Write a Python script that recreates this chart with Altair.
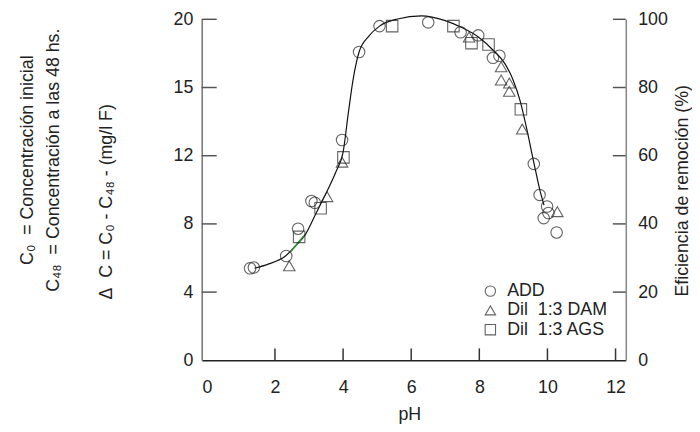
import altair as alt
import pandas as pd

FONT = "Liberation Sans"

# ---- data ----
series_names = ["ADD", "Dil\u00a0 1:3 DAM", "Dil\u00a0 1:3 AGS"]

add_ph = [1.27, 1.38, 2.33, 2.68, 3.07, 3.17, 3.97, 4.47, 5.07, 6.50, 7.45, 7.97, 8.40, 8.59, 9.60, 9.77, 9.99, 10.03, 9.89, 10.27]
add_eff = [27.0, 27.2, 30.6, 38.6, 46.7, 46.2, 64.6, 90.4, 98.0, 99.1, 96.2, 95.3, 88.7, 89.3, 57.6, 48.5, 45.1, 43.2, 41.7, 37.5]

dam_ph = [2.42, 3.53, 3.97, 7.70, 8.64, 8.64, 8.88, 8.88, 9.26, 10.29]
dam_eff = [27.7, 48.0, 58.1, 94.8, 86.1, 82.2, 81.3, 78.9, 67.8, 43.6]

ags_ph = [2.71, 3.34, 4.01, 5.44, 7.24, 7.77, 8.27, 9.22]
ags_eff = [36.2, 44.6, 59.5, 98.0, 98.0, 93.0, 92.6, 73.6]

curve_ph = [1.40, 1.80, 2.30, 2.60, 2.90, 3.20, 3.50, 3.80, 4.00, 4.16, 4.30, 4.47, 4.75, 5.07, 5.60, 6.30, 7.00, 7.50, 8.00, 8.40, 8.75, 9.00, 9.20, 9.40, 9.60, 9.80, 9.90]
curve_eff = [27.0, 28.2, 30.5, 33.5, 37.0, 43.0, 49.0, 55.5, 61.0, 73.0, 82.7, 90.4, 95.0, 98.0, 100.1, 101.0, 99.6, 97.5, 94.6, 91.0, 87.0, 82.0, 76.0, 67.5, 58.0, 49.0, 45.5]

green_ph = [2.45, 2.60, 2.85]
green_eff = [31.8, 33.5, 36.5]

x_ticks = [0, 2, 4, 6, 8, 10, 12]
x_inner_ticks = [2, 4, 6, 8, 10, 12]
y_ticks = [0, 20, 40, 60, 80, 100]
y_inner_ticks = [20, 40, 60, 80, 100]
left_labels = ["0", "4", "8", "12", "15", "20"]

legend_lines = [
    "C\u2080\u00a0 = Concentración inicial",
    "C\u2084\u2088\u00a0 = Concentración a las 48 hs.",
]
left_title = "\u0394\u00a0 C = C\u2080 - C\u2084\u2088 - (mg/l F)"
right_title = "Eficiencia de remoción (%)"

# ---- tables ----
pts = pd.DataFrame({
    "ph": add_ph + dam_ph + ags_ph,
    "eff": add_eff + dam_eff + ags_eff,
    "series": [series_names[0]] * len(add_ph) + [series_names[1]] * len(dam_ph) + [series_names[2]] * len(ags_ph),
})
curve_df = pd.DataFrame({"ph": curve_ph, "eff": curve_eff})
green_df = pd.DataFrame({"ph": green_ph, "eff": green_eff})

XMIN, XMAX = -0.15, 12.3
xs = alt.Scale(domain=[XMIN, XMAX], nice=False, zero=False)
ys = alt.Scale(domain=[0, 100], nice=False, zero=False)

xtick_df = pd.DataFrame({"ph": x_inner_ticks, "y0": [0] * len(x_inner_ticks), "y1": [3.5] * len(x_inner_ticks)})
ltick_df = pd.DataFrame({"ph": [XMIN] * len(y_inner_ticks), "x1": [XMIN + 0.44] * len(y_inner_ticks), "eff": y_inner_ticks})
rtick_df = pd.DataFrame({"ph": [XMAX - 0.38] * len(y_inner_ticks), "x1": [XMAX] * len(y_inner_ticks), "eff": y_inner_ticks})

label_expr = " : ".join(f"datum.value == {v} ? '{l}'" for v, l in zip(y_ticks, left_labels)) + " : ''"

x_axis = alt.Axis(values=x_ticks, title="pH", labelPadding=19, domainColor="#222",
                  domainWidth=1.6, titleX=210, titleY=60, titleBaseline="alphabetic",
                  titleAlign="center", labelFlush=False, labels=True)

left_axis = alt.Axis(orient="left", values=y_ticks, labelExpr=label_expr, labelPadding=9,
                     domainColor="#7a7a7a", domainWidth=1.6, title=left_title,
                     titleAngle=270, titleAlign="left", titleBaseline="alphabetic",
                     titleX=-91, titleY=283, labelFlush=False)

right_axis = alt.Axis(orient="right", values=y_ticks, labelPadding=12,
                      domainColor="#8a8a8a", domainWidth=1.6, title=right_title,
                      titleAngle=270, titleAlign="center", titleBaseline="alphabetic",
                      titleX=62, titleY=173, labelFlush=False)

X = alt.X("ph:Q", scale=xs, axis=x_axis)

curve = alt.Chart(curve_df).mark_line(color="#111", strokeWidth=1.2, interpolate="monotone").encode(
    x=X,
    y=alt.Y("eff:Q", scale=ys, axis=left_axis),
)

green = alt.Chart(green_df).mark_line(color="#2e8b2e", strokeWidth=1.6, interpolate="monotone").encode(
    x=X,
    y=alt.Y("eff:Q", scale=ys, axis=None),
)

points = alt.Chart(pts).mark_point(filled=False, size=135, strokeWidth=1.1, color="#222").encode(
    x=X,
    y=alt.Y("eff:Q", scale=ys, axis=right_axis),
    shape=alt.Shape("series:N",
                    scale=alt.Scale(domain=series_names, range=["circle", "triangle-up", "square"]),
                    legend=alt.Legend(orient="none", legendX=283, legendY=266, title=None,
                                      labelFontSize=18, labelFont=FONT, labelColor="#222",
                                      symbolSize=110, symbolStrokeColor="#222",
                                      symbolFillColor="transparent", symbolStrokeWidth=1.1,
                                      rowPadding=1.5, padding=0, labelOffset=8)),
)

xt = alt.Chart(xtick_df).mark_rule(color="#333", strokeWidth=1.5).encode(
    x=X,
    y=alt.Y("y0:Q", scale=ys, axis=None),
    y2="y1:Q",
)
lt = alt.Chart(ltick_df).mark_rule(color="#555", strokeWidth=1.5).encode(
    x=X,
    x2="x1:Q",
    y=alt.Y("eff:Q", scale=ys, axis=None),
)
rt = alt.Chart(rtick_df).mark_rule(color="#555", strokeWidth=1.5).encode(
    x=X,
    x2="x1:Q",
    y=alt.Y("eff:Q", scale=ys, axis=None),
)

chart = alt.layer(curve, green, xt, lt, rt, points).resolve_axis(y="independent").properties(
    width=429, height=345,
    padding={"left": 196, "top": 9, "right": 67, "bottom": 62},
    autosize=alt.AutoSizeParams(type="none"),
    title=alt.TitleParams(text=legend_lines, orient="left", anchor="middle", frame="group",
                          offset=35, dx=30, lineHeight=27, fontSize=18, font=FONT,
                          fontWeight="normal", color="#222"),
).configure_view(stroke=None).configure_axis(
    grid=False, ticks=False, tickSize=0,
    labelFont=FONT, titleFont=FONT, labelFontSize=18, titleFontSize=18,
    labelColor="#222", titleColor="#222", titleFontWeight="normal",
)

chart.save("out.html", embed_options={"renderer": "svg", "actions": False})
